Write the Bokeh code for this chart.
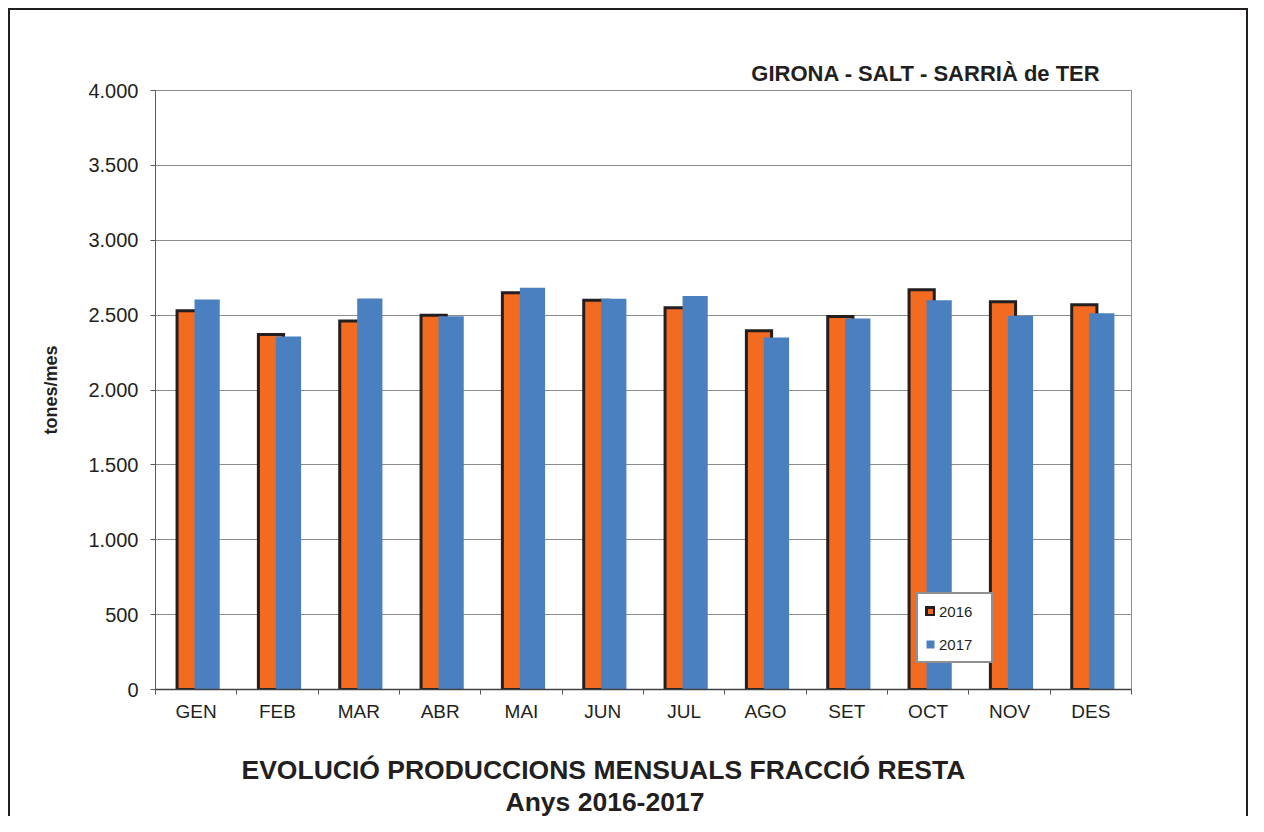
import numpy as np
from bokeh.plotting import figure
from bokeh.models import ColumnDataSource, Range1d, FixedTicker, Legend, LegendItem, Title
from bokeh.transform import dodge
from bokeh.embed import file_html
from bokeh.resources import INLINE

# ---- data ----
months = ["GEN", "FEB", "MAR", "ABR", "MAI", "JUN", "JUL", "AGO", "SET", "OCT", "NOV", "DES"]
values_2016 = [2530, 2370, 2460, 2500, 2650, 2600, 2550, 2395, 2490, 2670, 2590, 2570]
values_2017 = [2605, 2358, 2611, 2493, 2682, 2609, 2627, 2351, 2478, 2600, 2496, 2513]
series_names = ["2016", "2017"]
y_ticks = [0, 500, 1000, 1500, 2000, 2500, 3000, 3500, 4000]
y_tick_labels = ["0", "500", "1.000", "1.500", "2.000", "2.500", "3.000", "3.500", "4.000"]
y_axis_title = "tones/mes"
subtitle = "GIRONA - SALT - SARRIÀ de TER"
title_line1 = "EVOLUCIÓ PRODUCCIONS MENSUALS FRACCIÓ RESTA"
title_line2 = "Anys 2016-2017"

FONT = "Liberation Sans"
ORANGE = "#F36A21"
BLUE = "#4A7FC0"
DARK = "#231f20"
GRID = "#8c8c8c"

n = len(months)
centers = [i + 0.5 for i in range(n)]
src = ColumnDataSource(dict(x=centers, y2016=values_2016, y2017=values_2017))

p = figure(width=1248, height=816, output_backend="svg", toolbar_location=None,
           title=None,
           x_range=Range1d(0, n), y_range=Range1d(0, 4000),
           min_border_left=155, min_border_right=117, min_border_top=90, min_border_bottom=126,
           border_fill_color=None, background_fill_color="white",
           outline_line_color=GRID, outline_line_width=1)

p.styles = {"box-shadow": (f"inset 8px 8px 0 0 white, inset 10px 10px 0 0 {DARK}, "
                           f"inset -2px 0 0 0 {DARK}")}

r16 = p.vbar(x=dodge("x", -0.08), top="y2016", bottom=0, width=0.31, source=src,
             fill_color=ORANGE, line_color=DARK, line_width=3, line_join="miter")
r17 = p.vbar(x=dodge("x", 0.135), top="y2017", bottom=0, width=0.31, source=src,
             fill_color=BLUE, line_color=None)

# x axis
xa = p.xaxis[0]
xa.ticker = FixedTicker(ticks=centers, minor_ticks=list(range(n + 1)))
xa.major_label_overrides = {c: m for c, m in zip(centers, months)}
xa.major_tick_out = 0
xa.major_tick_in = 0
xa.minor_tick_out = 5
xa.minor_tick_in = 0
xa.minor_tick_line_color = "#595959"
xa.axis_line_color = "#404040"
xa.axis_line_width = 1.5
xa.major_label_text_font = FONT
xa.major_label_text_font_size = "19px"
xa.major_label_text_color = DARK
xa.major_label_standoff = 6
# blank axis label used only as spacing between tick labels and the chart title
xa.axis_label = " "
xa.axis_label_text_font_size = "10px"
xa.axis_label_standoff = 14
p.xgrid.visible = False

# y axis
ya = p.yaxis[0]
ya.ticker = FixedTicker(ticks=y_ticks)
ya.major_label_overrides = {t: l for t, l in zip(y_ticks, y_tick_labels)}
ya.major_tick_out = 5
ya.major_tick_in = 0
ya.major_tick_line_color = "#595959"
ya.minor_tick_line_color = None
ya.axis_line_color = "#595959"
ya.major_label_text_font = FONT
ya.major_label_text_font_size = "20px"
ya.major_label_text_color = DARK
ya.major_label_standoff = 12
ya.axis_label = y_axis_title
ya.axis_label_text_font = FONT
ya.axis_label_text_font_size = "18px"
ya.axis_label_text_font_style = "bold"
ya.axis_label_text_color = DARK
ya.axis_label_standoff = 24
p.ygrid.grid_line_color = GRID
p.ygrid.grid_line_width = 1

# legend
legend = Legend(items=[LegendItem(label=series_names[0], renderers=[r16]),
                       LegendItem(label=series_names[1], renderers=[r17])],
                location=(761, 26), orientation="vertical",
                border_line_color=DARK, border_line_width=2,
                background_fill_color="white", background_fill_alpha=1,
                padding=7, spacing=13, margin=0,
                glyph_width=10, glyph_height=10, label_height=20, label_width=45,
                label_standoff=4,
                label_text_font=FONT, label_text_font_size="15px", label_text_color=DARK)
p.add_layout(legend)

# texts
p.add_layout(Title(text=subtitle, align="right", offset=31, standoff=10,
                   text_font=FONT, text_font_size="22px", text_font_style="bold",
                   text_color=DARK), "above")
p.add_layout(Title(text=title_line1, align="left", offset=86, standoff=0,
                   text_font=FONT, text_font_size="26.5px", text_font_style="bold",
                   text_color=DARK), "below")
p.add_layout(Title(text=title_line2, align="left", offset=350, standoff=0,
                   text_font=FONT, text_font_size="26.5px", text_font_style="bold",
                   text_color=DARK), "below")

open("out.html", "w").write(file_html(p, INLINE))
